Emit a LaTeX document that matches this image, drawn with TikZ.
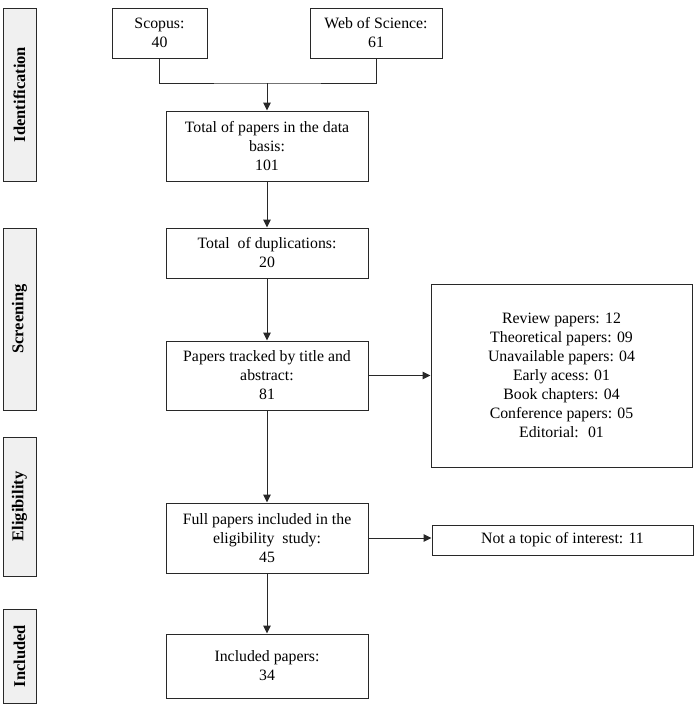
\documentclass[tikz,border=0pt]{standalone}
\usepackage{fontspec}
\setmainfont{Liberation Serif}
\usetikzlibrary{arrows.meta}
\definecolor{stagegrey}{RGB}{240, 240, 240}
\definecolor{linegrey}{RGB}{40, 40, 40}

\tikzset{
  box/.style={draw=linegrey, line width=1pt, align=center, inner sep=2pt,
    font=\fontsize{15.8}{19}\selectfont},
  stage/.style={draw=linegrey, line width=1pt, fill=stagegrey, rotate=90,
    minimum height=33pt, inner sep=0pt, font=\fontsize{16.5}{19}\selectfont\bfseries},
  flow/.style={-{Triangle[length=8pt, width=7.5pt]}, line width=1pt, draw=linegrey}
}

\begin{document}
\begin{tikzpicture}[x=1pt, y=-1pt]
        \useasboundingbox (0,0) rectangle (699,707);

        % stages on the left
        \node[stage, minimum width=173pt] (ident) at (19.5,94.5) {Identification};
        \node[stage, minimum width=182pt] (screen) at (19.5,319) {Screening};
        \node[stage, minimum width=139pt] (elig) at (19.5,506.5) {Eligibility};
        \node[stage, minimum width=94pt] (incside) at (19.5,656) {Included};

        % main flow
        \node[box, minimum width=95pt, minimum height=50pt] (scopus) at (159.5,33) {Scopus:\\40};
        \node[box, minimum width=132pt, minimum height=50pt] (wos) at (376,33) {Web of Science:\\61};
        \coordinate (merge) at (267,83);
        \node[box, minimum width=202pt, minimum height=70pt] (total) at (267,146)
          {Total of papers in the data\\basis:\\101};
        \node[box, minimum width=202pt, minimum height=50pt] (dup) at (267,253)
          {Total \ of duplications:\\20};
        \node[box, minimum width=202pt, minimum height=69pt] (tracked) at (267,375.5)
          {Papers tracked by title and\\abstract:\\81};
        \node[box, minimum width=202pt, minimum height=70pt] (full) at (267,538)
          {Full papers included in the\\eligibility \ study:\\45};
        \node[box, minimum width=202pt, minimum height=64pt] (incl) at (267,666)
          {Included papers:\\34};

        % excluded
        \node[box, minimum width=261pt, minimum height=183pt] (excl) at (561.5,375.5)
          {Review papers: 12\\Theoretical papers: 09\\Unavailable papers: 04\\Early acess: 01\\
           Book chapters: 04\\Conference papers: 05\\Editorial: \ 01};
        \node[box, minimum width=261pt, minimum height=30pt] (nottopic) at (562.5,540)
          {Not a topic of interest: 11};

        \draw[line width=1pt, draw=linegrey] (scopus.south) |- (merge) -| (wos.south);
        \draw[flow] (merge) -- (total.north);
        \draw[flow] (total) -- (dup);
        \draw[flow] (dup) -- (tracked);
        \draw[flow] (tracked) -- (full);
        \draw[flow] (full) -- (incl);
        \draw[flow] (tracked) -- (excl);
        \draw[flow] (full.east) -- (full.east -| nottopic.west);
      \end{tikzpicture}
\end{document}
